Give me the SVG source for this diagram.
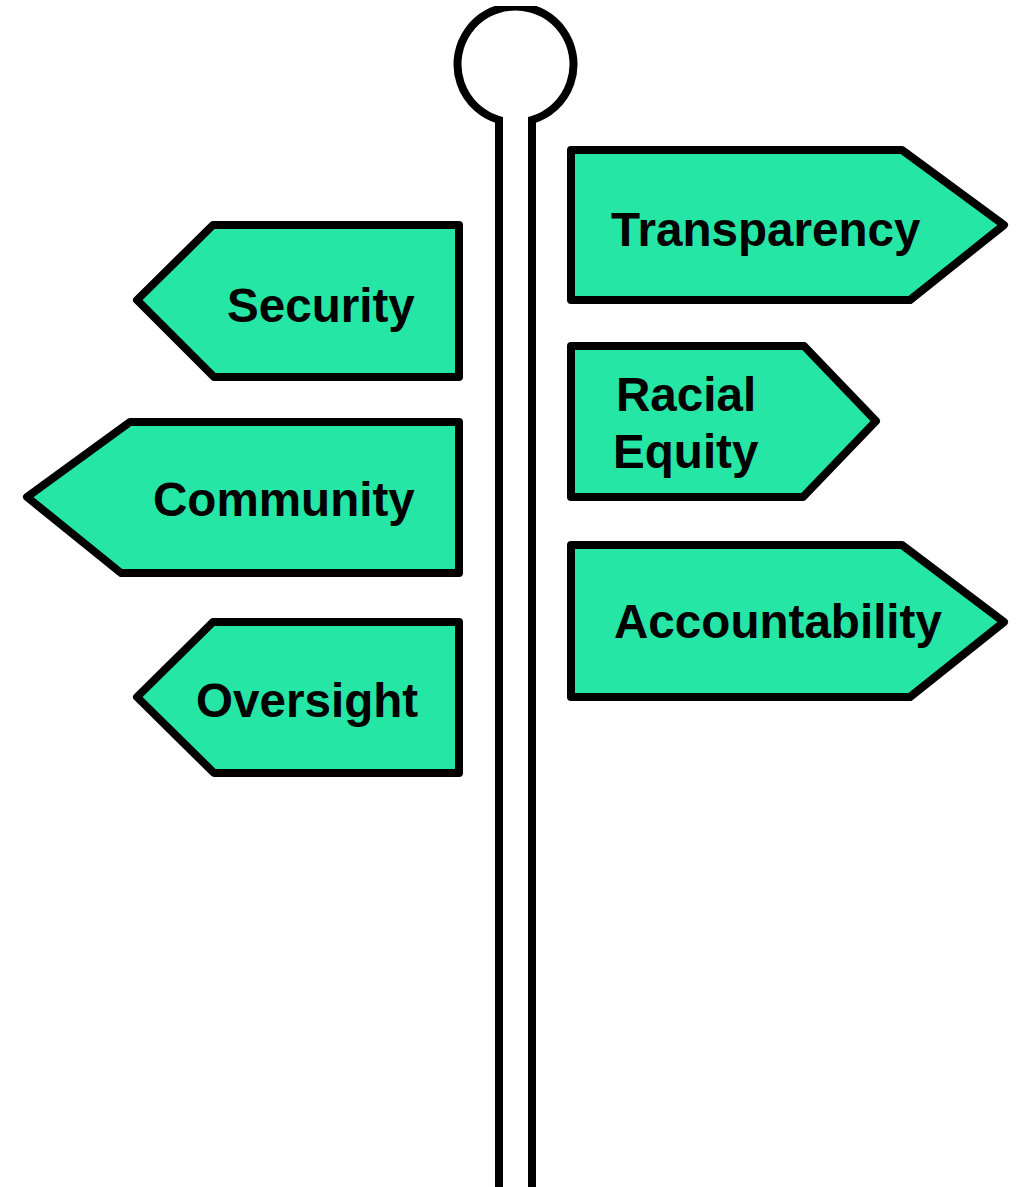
<svg xmlns="http://www.w3.org/2000/svg" width="1023" height="1187" viewBox="0 0 1023 1187">
<style>
.sign{fill:#25E6A5;stroke:#000;stroke-width:8;stroke-linejoin:round}
.lbl{font-family:"Liberation Sans",Arial,sans-serif;font-weight:bold;font-size:47.6px;fill:#000}
.pole{fill:none;stroke:#000;stroke-width:8}
</style>
<defs><clipPath id="c"><rect x="0" y="6" width="1023" height="1181"/></clipPath></defs>
<rect width="1023" height="1187" fill="#fff"/>
<g id="connectors">
<path id="pole" class="pole" clip-path="url(#c)" d="M499,1187 L499,120 A58,58 0 1,1 532,120 L532,1187"/>
</g>
<g id="transparency"><polygon class="sign" points="571,150 902,150 1004,225 910,300 571,300"/><text class="lbl" x="611" y="246">Transparency</text></g>
<g id="racial-equity"><polygon class="sign" points="571,346 804,346 876,421 803,497 571,497"/><text class="lbl" x="616" y="411">Racial</text><text class="lbl" x="613" y="468">Equity</text></g>
<g id="accountability"><polygon class="sign" points="571,545 902,545 1004,622 910,697 571,697"/><text class="lbl" x="614" y="638">Accountability</text></g>
<g id="security"><polygon class="sign" points="459,225 213,225 137,300 214,377 459,377"/><text class="lbl" x="227" y="322">Security</text></g>
<g id="community"><polygon class="sign" points="459,422 130,422 27,497 121,573 459,573"/><text class="lbl" x="153" y="516">Community</text></g>
<g id="oversight"><polygon class="sign" points="459,622 213,622 137,697 214,773 459,773"/><text class="lbl" x="196" y="717">Oversight</text></g>
</svg>
